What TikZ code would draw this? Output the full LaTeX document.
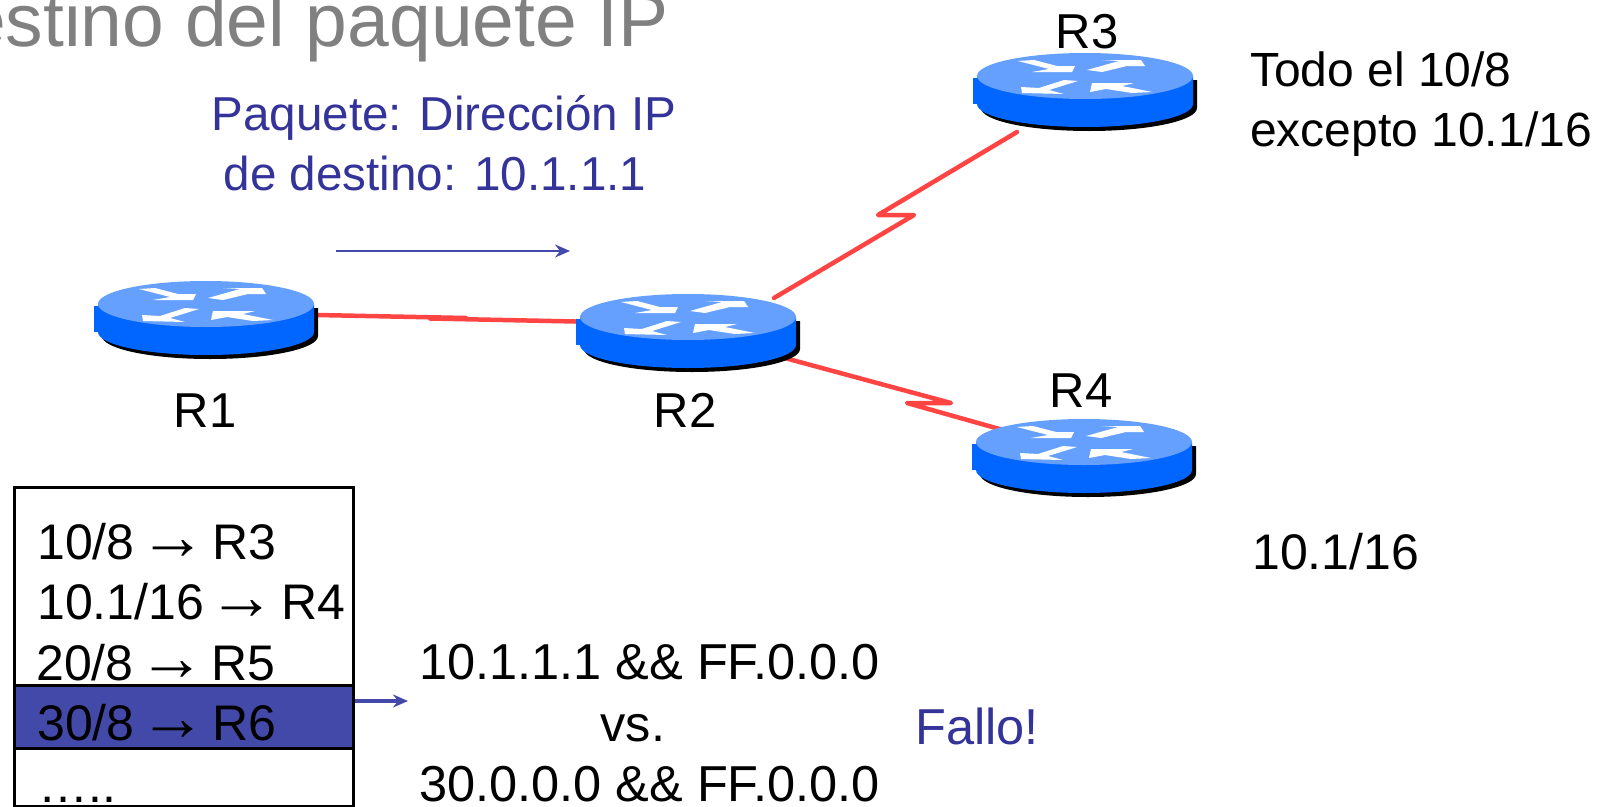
\documentclass[tikz,border=0pt]{standalone}
\usepackage{fontspec}
\usetikzlibrary{arrows.meta}
\setmainfont{Liberation Sans}
\definecolor{rtop}{HTML}{66A0FF}
\definecolor{rbody}{HTML}{0066FF}
\definecolor{linkred}{HTML}{FF4444}
\definecolor{pblue}{HTML}{333399}
\definecolor{band}{HTML}{4349A8}
\newcommand{\fs}[1]{\fontsize{#1}{#1}\selectfont}
\newcommand{\arr}{\kern-9pt{\fontsize{67}{67}\selectfont →}\kern-8pt}
\tikzset{
  x=1pt,y=-1pt,
  txt/.style={anchor=base west,inner sep=0pt,font=\fs{48},text=black},
  ctxt/.style={txt,anchor=base},
  btxt/.style={txt,text=pblue},
  link/.style={draw=linkred,line width=4.5pt,line cap=round,line join=round},
  parrow/.style={draw=band,-{Stealth[length=15pt,width=13pt,inset=5pt]}},
  router/.pic={
    \fill[black] (-104,4) -- (-104,32) arc[start angle=180,end angle=0,x radius=108,y radius=23] -- (112,4) -- cycle;
    \fill[rbody] (-112,2) rectangle (-104,28);
    \fill[rbody] (-108,0) -- (-108,28) arc[start angle=180,end angle=0,x radius=108,y radius=23] -- (108,0) -- cycle;
    \fill[rtop] (0,0) ellipse[x radius=108,y radius=23];
    \fill[white] (-67,-15) -- (-51,-16) -- (-28,-10) -- (-10,-10) -- (-13,-4) -- (-53,-4) -- (-36,-7) -- cycle;
    \fill[white] (2,-6) -- (34,-15) -- (17,-16) -- (56,-16) -- (60,-10) -- (42,-10) -- (17,-4) -- cycle;
    \fill[white] (-64,11) -- (-63,17) -- (-21,18) -- (-36,14) -- (-7,5) -- (-21,4) -- (-46,12) -- cycle;
    \fill[white] (7,7) -- (5,16) -- (21,13) -- (47,17) -- (67,16) -- (37,10) -- (49,7) -- cycle;
  }
}
\begin{document}
\begin{tikzpicture}
\useasboundingbox (0,0) rectangle (1602,806);
\clip (0,0) rectangle (1602,806);
% title
\node[txt,text=gray,font=\fs{75}] (title) at (-36,46) {estino del paquete IP};
% link end points
\coordinate (r1pos) at (206,304);
\coordinate (r2pos) at (688,317);
\coordinate (r3pos) at (1085,76);
\coordinate (r4pos) at (1084,442);
\coordinate (l12a) at (317,315);
\coordinate (l12b) at (466,318);
\coordinate (l12c) at (430,318.5);
\coordinate (l12d) at (600,322);
\coordinate (l23a) at (774,298);
\coordinate (l23b) at (878,215);
\coordinate (l23c) at (914,215);
\coordinate (l23d) at (1017,132);
\coordinate (l24a) at (770,354);
\coordinate (l24b) at (951,403);
\coordinate (l24c) at (907,403);
\coordinate (l24d) at (1010,432);
% links
\draw[link] (l12a) -- (l12b) -- (l12c) -- (l12d);
\draw[link] (l23a) -- (l23c) -- (l23b) -- (l23d);
\draw[link] (l24a) -- (l24b) -- (l24c) -- (l24d);
% routers
\pic at (r1pos) {router};
\pic at (r2pos) {router};
\pic at (r3pos) {router};
\pic at (r4pos) {router};
% labels
\node[ctxt,font=\fs{49}] (lr1) at (205,427) {R1};
\node[ctxt,font=\fs{49}] (lr2) at (685,427) {R2};
\node[ctxt,font=\fs{49}] (lr3) at (1087,48) {R3};
\node[ctxt,font=\fs{49}] (lr4) at (1081,407) {R4};
\node[txt] (t1) at (1250,86) {Todo el 10/8};
\node[txt] (t2) at (1250,146) {excepto 10.1/16};
\node[txt,font=\fs{50}] (t3) at (1252,569) {10.1/16};
\node[ctxt,text=pblue,font=\fs{47.6}] (p1) at (444,130) {Paquete: Dirección IP};
\node[ctxt,text=pblue,font=\fs{47.6}] (p2) at (435,190) {de destino: 10.1.1.1};
\coordinate (pa) at (336,251);
\coordinate (pb) at (570,251);
\draw[parrow,line width=2pt] (pa) -- (pb);
% table
\node[draw=black,line width=2.5pt,fill=white,minimum width=339pt,minimum height=319pt,inner sep=0pt,anchor=north west] (table) at (13,486) {};
\node[draw=black,line width=2.5pt,fill=band,minimum width=339pt,minimum height=63pt,inner sep=0pt,anchor=north west] (hl) at (13,684) {};
\node[txt,font=\fs{50}] (a1) at (37,559) {10/8 \arr{} R3};
\node[txt,font=\fs{50}] (a2) at (37,619) {10.1/16 \arr{} R4};
\node[txt,font=\fs{50}] (a3) at (36,680) {20/8 \arr{} R5};
\node[txt,font=\fs{50}] (a4) at (37,740) {30/8 \arr{} R6};
\node[txt,font=\fs{50}] (a5) at (38,802) {…..};
\coordinate (hb) at (408,701);
\draw[parrow,line width=4pt] (hl.east |- hb) -- (hb);
% compare
\node[txt,font=\fs{50.5}] (c1) at (419,679) {10.1.1.1 \&\& FF.0.0.0};
\node[ctxt,font=\fs{50.5}] (c2) at (633,741) {vs.};
\node[txt,font=\fs{50.5}] (c3) at (419,801) {30.0.0.0 \&\& FF.0.0.0};
\node[btxt,font=\fs{50.5}] (f) at (915,744) {Fallo!};
\end{tikzpicture}
\end{document}
